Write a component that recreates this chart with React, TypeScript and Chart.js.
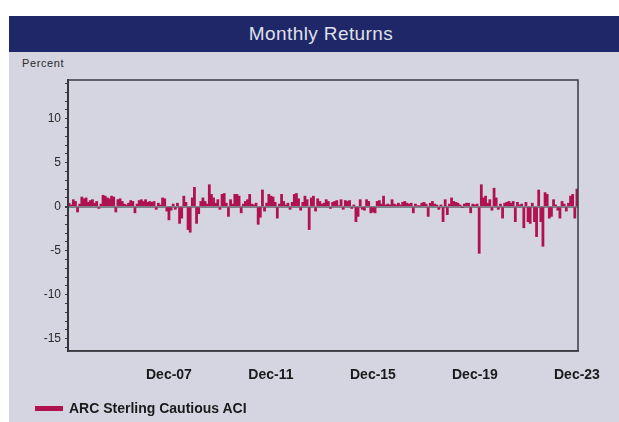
import React, { useEffect, useRef } from 'react';
import { Chart, registerables } from 'chart.js';
Chart.register(...registerables);

const START_YEAR = 2004;
const MONTH_NAMES = ['Jan', 'Feb', 'Mar', 'Apr', 'May', 'Jun', 'Jul', 'Aug', 'Sep', 'Oct', 'Nov', 'Dec'];

const returns2004 = [0.4, 0.2, 0.8, 0.6, -0.6, 0.3, 1.1, 0.9, 1.0, 0.5, 0.7, 0.8];
const returns2005 = [0.4, 0.6, -0.2, 0.3, 1.3, 1.2, 1.0, 0.9, 1.2, 1.1, -0.6, 0.8];
const returns2006 = [0.9, 0.6, 0.3, 0.2, 0.4, 0.7, 0.6, -0.7, 0.3, 0.7, 0.8, 0.6];
const returns2007 = [0.8, 0.5, 0.6, 0.5, 0.6, -0.3, 0.4, 0.2, 1.0, 0.9, -0.5, -1.5];
const returns2008 = [-0.4, 0.3, -0.3, 0.4, -1.9, -1.3, 1.2, 0.5, -2.6, -2.9, 1.0, 2.2];
const returns2009 = [-1.9, -0.8, 0.6, 1.0, 0.6, 0.3, 2.5, 1.4, 1.0, 0.4, 0.8, -0.3];
const returns2010 = [1.4, 1.5, 0.4, -1.1, 0.8, 0.3, 1.4, 1.4, 1.2, -0.7, 0.3, 0.6];
const returns2011 = [0.8, 1.4, 0.3, 0.2, 0.4, -2.0, -1.2, 1.9, -0.5, 0.4, 1.4, 1.2];
const returns2012 = [1.1, 0.5, -1.3, 0.3, 1.4, 0.6, 0.2, 0.4, -0.3, 0.5, 1.4, 1.5];
const returns2013 = [0.9, -0.4, 0.5, 1.2, 0.8, -2.6, 1.0, 1.2, -0.5, 0.9, 0.6, 0.3];
const returns2014 = [0.4, 0.8, 0.6, -0.2, 0.5, 0.6, 0.7, 0.1, 0.8, -0.3, 0.7, 0.6];
const returns2015 = [0.7, -0.2, 0.2, -1.7, -1.1, 0.8, -0.3, -0.4, 0.8, 0.6, -0.7, -0.6];
const returns2016 = [-0.7, 0.6, 0.7, 0.3, 1.2, 0.2, 0.3, 0.2, 0.8, 0.3, 0.2, 0.4];
const returns2017 = [0.2, 0.5, 0.6, 0.4, 0.3, 0.4, -0.7, 0.3, 0.1, 0.1, 0.4, 0.5];
const returns2018 = [0.3, -1.1, 0.4, 0.6, 0.3, 0.2, -0.3, 0.2, -1.7, 0.8, -0.9, 0.3];
const returns2019 = [1.0, 0.6, 0.5, 0.4, 0.2, -0.1, 0.3, 0.4, 0.4, -0.7, 0.3, 0.2];
const returns2020 = [0.3, -5.3, 2.5, 1.0, 1.2, 0.4, 0.8, -0.4, 2.1, 1.0, -0.3, 0.3];
const returns2021 = [-1.3, 0.4, 0.5, 0.6, 0.4, 0.6, -1.7, 0.5, 0.2, 0.3, -2.4, 0.5];
const returns2022 = [-1.7, -1.9, 0.4, -1.7, -3.4, 1.9, -1.7, -4.5, 1.6, 1.4, -1.3, -1.1];
const returns2023 = [0.8, 0.2, -0.4, -1.3, 0.6, 0.3, -0.5, 0.4, 1.2, 1.4, -1.3, 2.0];

const seriesValues = [
  ...returns2004, ...returns2005, ...returns2006, ...returns2007, ...returns2008,
  ...returns2009, ...returns2010, ...returns2011, ...returns2012, ...returns2013,
  ...returns2014, ...returns2015, ...returns2016, ...returns2017, ...returns2018,
  ...returns2019, ...returns2020, ...returns2021, ...returns2022, ...returns2023,
];

const categories = seriesValues.map(
  (_, i) => `${MONTH_NAMES[i % 12]}-${String((START_YEAR + Math.floor(i / 12)) % 100).padStart(2, '0')}`
);

const xTickLabels = ['Dec-07', 'Dec-11', 'Dec-15', 'Dec-19', 'Dec-23'];
const yTickLabels = [-15, -10, -5, 0, 5, 10];
const seriesName = 'ARC Sterling Cautious ACI';

const BAR_COLOR = '#b0124f';
const NAVY = '#1f2769';
const PANEL = '#d4d5e1';

const frameBox = {
  id: 'frameBox',
  afterDraw(chart: any) {
    const { ctx, chartArea } = chart;
    ctx.save();
    ctx.strokeStyle = '#3a3a40';
    ctx.lineWidth = 1.5;
    ctx.strokeRect(chartArea.left, chartArea.top, chartArea.right - chartArea.left, chartArea.bottom - chartArea.top);
    ctx.restore();
  },
};

export default function App() {
  const ref = useRef<HTMLCanvasElement | null>(null);

  useEffect(() => {
    if (!ref.current) return;
    const chart = new Chart(ref.current, {
      type: 'bar',
      data: {
        labels: categories,
        datasets: [
          {
            label: seriesName,
            data: seriesValues,
            backgroundColor: BAR_COLOR,
            borderWidth: 0,
            barPercentage: 1,
            categoryPercentage: 1,
          },
        ],
      },
      options: {
        animation: false,
        responsive: false,
        maintainAspectRatio: false,
        layout: { padding: { left: 0, right: 41, top: 80, bottom: 0 } },
        plugins: { legend: { display: false }, tooltip: { enabled: false }, title: { display: false } },
        scales: {
          x: {
            type: 'category',
            offset: true,
            afterFit(scale: any) {
              scale.height = 71;
            },
            grid: { display: false },
            border: { display: true, color: '#3a3a40', width: 1.5 },
            ticks: {
              autoSkip: false,
              maxRotation: 0,
              minRotation: 0,
              padding: 8,
              color: '#1a1a1a',
              font: { family: 'Liberation Sans Narrow, Liberation Sans, Arial, sans-serif', size: 14, weight: 'bold' },
              callback: (_v: any, index: number) =>
                xTickLabels.includes(categories[index]) ? categories[index] : '',
            },
          },
          y: {
            min: -16.4,
            max: 14.4,
            afterFit(scale: any) {
              scale.width = 68;
            },
            afterBuildTicks(scale: any) {
              const t: { value: number }[] = [];
              for (let v = -16; v <= 14; v++) t.push({ value: v });
              scale.ticks = t;
            },
            border: { display: true, color: '#2a2a30', width: 2 },
            grid: {
              drawOnChartArea: true,
              drawTicks: true,
              tickLength: 3,
              tickColor: '#3a3a40',
              color: (ctx: any) => (ctx.tick && ctx.tick.value === 0 ? 'rgba(120,120,130,0.9)' : 'rgba(0,0,0,0)'),
              lineWidth: (ctx: any) => (ctx.tick && ctx.tick.value === 0 ? 2 : 1),
            },
            ticks: {
              autoSkip: false,
              padding: 4,
              color: '#2a2a2a',
              font: { family: 'Liberation Sans, Arial, sans-serif', size: 12 },
              callback: (v: any) => (yTickLabels.includes(Number(v)) ? String(v) : ''),
            },
          },
        },
      },
      plugins: [frameBox],
    });
    return () => chart.destroy();
  }, []);

  return (
    <div style={{ position: 'absolute', left: 0, top: 0, width: 619, height: 422, background: '#ffffff', overflow: 'hidden' }}>
      <div style={{ position: 'absolute', left: 9, top: 52, width: 610, height: 370, background: PANEL }} />
      <div
        style={{
          position: 'absolute', left: 9, top: 16, width: 610, height: 36, background: NAVY,
          color: '#dfe0ea', fontFamily: 'Liberation Sans, Arial, sans-serif', fontSize: 19,
          letterSpacing: 0.4, display: 'flex', alignItems: 'center', justifyContent: 'center',
        }}
      >
        <span style={{ marginLeft: 14 }}>Monthly Returns</span>
      </div>
      <div
        style={{
          position: 'absolute', left: 22, top: 57, fontFamily: 'Liberation Sans, Arial, sans-serif',
          fontSize: 11, color: '#2a2a2a', letterSpacing: 0.6,
        }}
      >
        Percent
      </div>
      <canvas ref={ref} width={619} height={422} style={{ position: 'absolute', left: 0, top: 0, width: 619, height: 422 }} />
      <div style={{ position: 'absolute', left: 35, top: 400, display: 'flex', alignItems: 'center' }}>
        <div style={{ width: 28, height: 5, background: BAR_COLOR, marginRight: 6 }} />
        <span style={{ fontFamily: 'Liberation Sans, Arial, sans-serif', fontWeight: 'bold', fontSize: 14, color: '#1a1a1a' }}>
          {seriesName}
        </span>
      </div>
    </div>
  );
}
